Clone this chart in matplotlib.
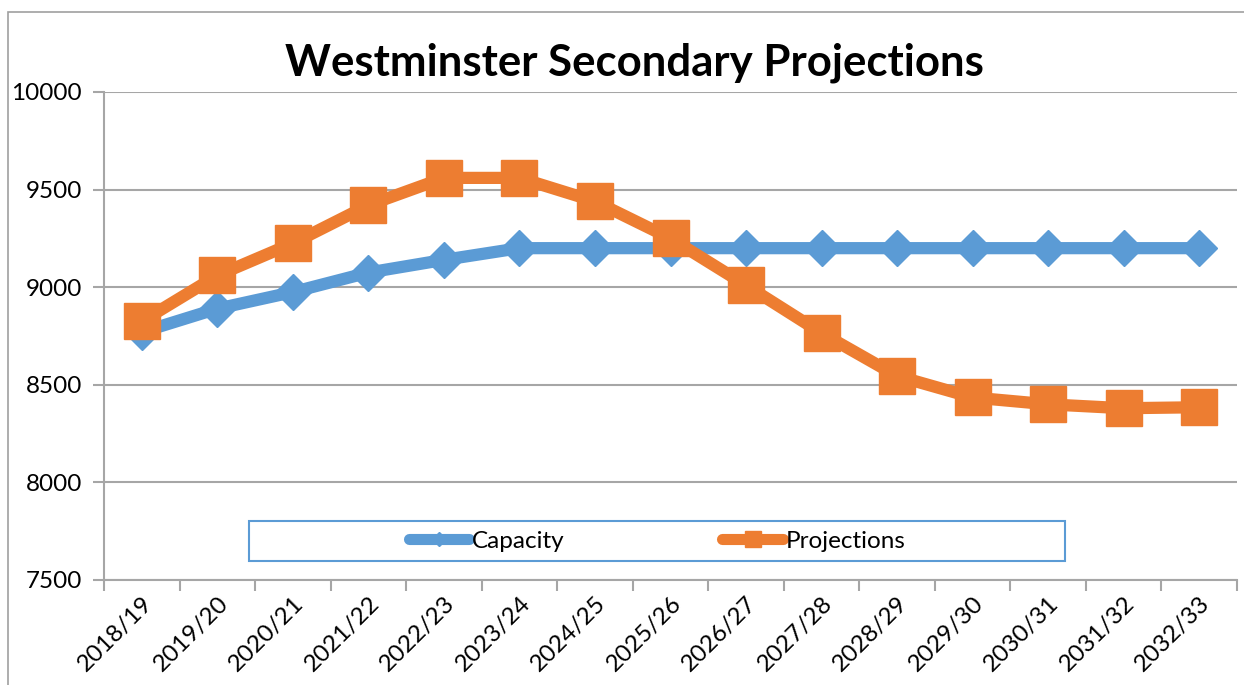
import matplotlib.pyplot as plt
from matplotlib.lines import Line2D
from matplotlib.patches import Rectangle
import numpy as np

# ---------- data ----------
years = ["2018/19", "2019/20", "2020/21", "2021/22", "2022/23", "2023/24", "2024/25", "2025/26",
         "2026/27", "2027/28", "2028/29", "2029/30", "2030/31", "2031/32", "2032/33"]
capacity = [8770, 8890, 8975, 9075, 9140, 9200, 9200, 9200, 9200, 9200, 9200, 9200, 9200, 9200, 9200]
projections = [8825, 9060, 9225, 9420, 9560, 9560, 9440, 9250, 9010, 8765, 8545, 8435, 8400, 8380, 8385]

BLUE = "#5B9BD5"
ORANGE = "#ED7D31"
GRID = "#A6A6A6"
FONT = "Lato"
FS = 17.5

plt.rcParams["font.family"] = [FONT, "DejaVu Sans"]

W, H = 1244, 685
fig = plt.figure(figsize=(W / 100, H / 100), dpi=100)

# outer chart border (only left and top are inside the picture)
fig.patches.append(Rectangle((8 / W, -0.1), 1.2, 1 - 12 / H + 0.1, transform=fig.transFigure,
                             fill=False, edgecolor="#A0A0A0", lw=1.2))

ax = fig.add_axes([104 / W, 1 - 580 / H, (1237 - 104) / W, (580 - 92) / H])
x = np.arange(len(years))

ax.plot(x, capacity, color=BLUE, lw=8.8, marker="D", ms=18, mec=BLUE, mfc=BLUE,
        solid_joinstyle="miter", zorder=3)
ax.plot(x, projections, color=ORANGE, lw=8.8, marker="s", ms=26, mec=ORANGE, mfc=ORANGE,
        solid_joinstyle="miter", zorder=4)

ax.set_xlim(-0.5, len(years) - 0.5)
ax.set_ylim(7500, 10000)
ax.set_yticks(np.arange(7500, 10001, 500))
ax.yaxis.grid(True, color=GRID, lw=1.5)
ax.set_axisbelow(True)

ax.set_xticks(x)
ax.set_xticklabels(years, rotation=45, ha="right", va="top", rotation_mode="anchor")
ax.set_xticks(np.arange(-0.5, len(years)), minor=True)
ax.tick_params(axis="x", which="major", length=0, pad=9, labelsize=FS)
ax.tick_params(axis="x", which="minor", length=8, width=1.5, color=GRID, direction="out")
ax.tick_params(axis="y", length=8, width=1.5, color=GRID, labelsize=FS, pad=8)

for s in ["top", "right"]:
    ax.spines[s].set_visible(False)
for s in ["left", "bottom"]:
    ax.spines[s].set_color(GRID)
    ax.spines[s].set_linewidth(1.5)

fig.text(634 / W, 1 - 63 / H, "Westminster Secondary Projections", ha="center", va="center",
         fontsize=31.5, fontweight="bold")

# legend box
lx0, lx1, ly0, ly1 = 249, 1065, 521, 561
fig.patches.append(Rectangle((lx0 / W, 1 - ly1 / H), (lx1 - lx0) / W, (ly1 - ly0) / H,
                             transform=fig.transFigure, fill=False, edgecolor=BLUE, lw=1.5))
handles = [Line2D([], [], color=BLUE, lw=8, marker="D", ms=7, solid_capstyle="round"),
           Line2D([], [], color=ORANGE, lw=8, marker="s", ms=11, solid_capstyle="round")]
fig.legend(handles, ["Capacity", "Projections"], loc="center",
           bbox_to_anchor=((lx0 + lx1) / 2 / W, 1 - (ly0 + ly1) / 2 / H), ncol=2,
           frameon=False, fontsize=FS, handlelength=2.5, handletextpad=0.1,
           columnspacing=6.5)

fig.savefig("out.png", dpi=100)
